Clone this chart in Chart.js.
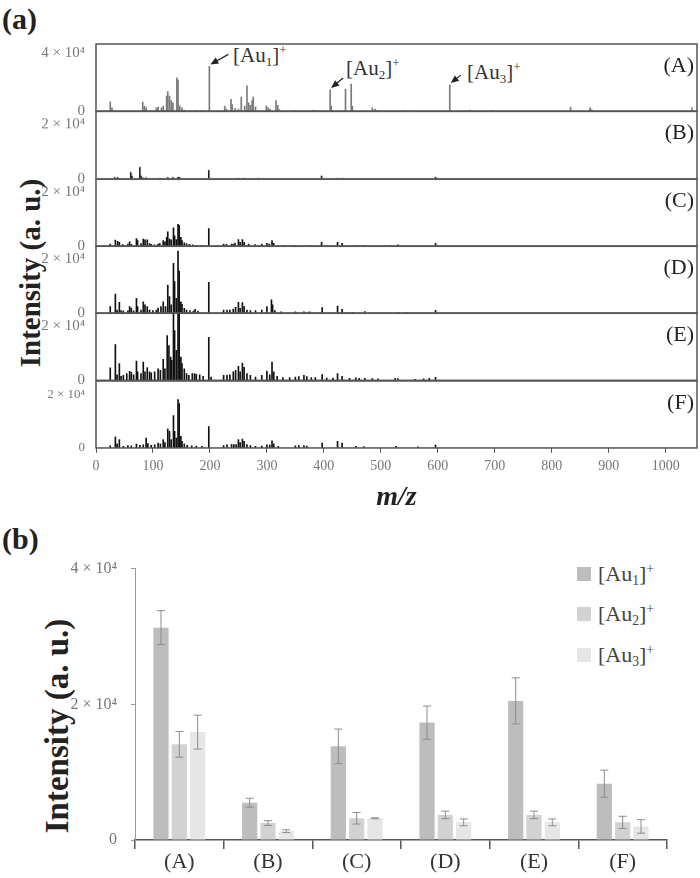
<!DOCTYPE html>
<html>
<head>
<meta charset="utf-8">
<script src="https://cdn.jsdelivr.net/npm/chart.js@4"></script>
<style>
  body { margin: 0; background: #fff; }
  #page { position: relative; width: 700px; height: 878px; font-family: 'Liberation Serif', serif; color: #222; overflow: hidden; }
  .box { position: absolute; left: 0; width: 700px; }
  .txt { position: absolute; white-space: nowrap; line-height: 1; }
  .rot { position: absolute; white-space: nowrap; line-height: 1; font-weight: bold; transform: translate(-50%, -50%) rotate(-90deg); }
  sub { font-size: 0.62em; vertical-align: -0.28em; line-height: 0; }
  sup { font-size: 0.62em; vertical-align: 0.6em; line-height: 0; }
  .sw { position: absolute; width: 14px; height: 14px; }
</style>
</head>
<body>
<div id="page">
  <div class="txt" style="left:2px;top:4px;font-size:30px;font-weight:bold;">(a)</div>
  <div class="txt" style="left:2px;top:524px;font-size:30px;font-weight:bold;">(b)</div>
  <div class="rot" style="left:30px;top:273px;font-size:29px;">Intensity (a. u.)</div>
  <div class="rot" style="left:57px;top:726px;font-size:33px;">Intensity (a. u.)</div>

  <div class="txt" style="left:233px;top:45px;font-size:21px;color:#333;">[Au<sub>1</sub>]<sup>+</sup></div>
  <div class="txt" style="left:346px;top:58px;font-size:21px;color:#333;">[Au<sub>2</sub>]<sup>+</sup></div>
  <div class="txt" style="left:467px;top:62px;font-size:21px;color:#333;">[Au<sub>3</sub>]<sup>+</sup></div>

  <div class="sw" style="left:577px;top:567px;background:#bdbdbd;"></div>
  <div class="txt" style="left:598px;top:563px;font-size:22px;color:#444;">[Au<sub>1</sub>]<sup>+</sup></div>
  <div class="sw" style="left:577px;top:607px;background:#d2d2d2;"></div>
  <div class="txt" style="left:598px;top:603px;font-size:22px;color:#444;">[Au<sub>2</sub>]<sup>+</sup></div>
  <div class="sw" style="left:577px;top:648px;background:#e6e6e6;"></div>
  <div class="txt" style="left:598px;top:644px;font-size:22px;color:#444;">[Au<sub>3</sub>]<sup>+</sup></div>

  <div class="box" style="top:545px;height:333px;"><canvas id="bars"></canvas></div>
</div>
<script>
// peaks as [m/z, intensity]
const peaksA = [[25,6500],[28,2300],[82,6300],[85,3500],[88,2300],[106,2300],[109,2800],[115,2300],[118,3500],
  [124,10400],[126,13500],[129,10400],[132,7400],[135,5800],[142,22800],[144,21400],[147,3500],[151,2300],[155,900],
  [175,600],[185,700],[199,30700],[226,3500],[229,1500],[237,8100],[239,4600],[244,2000],[250,1500],[255,9800],
  [261,3500],[265,17400],[268,5800],[271,4000],[274,7400],[276,9800],[280,3000],[299,3500],[302,2300],[305,1500],
  [316,7400],[319,4000],[322,1200],[347,700],[382,900],[411,14600],[413,3500],[438,15100],[448,18600],[450,3500],
  [485,2300],[490,1500],[495,700],[540,500],[560,400],[621,17900],[657,800],[695,600],[833,2800],[867,2300],
  [870,1200],[1046,2300]];
const peaksB = [[33,600],[38,600],[61,2500],[63,1200],[77,4400],[79,1200],[82,500],[88,500],[112,400],[126,600],
  [135,600],[144,700],[147,600],[198,3200],[250,400],[259,400],[285,400],[396,1200],[424,400],[433,400],[596,700]];
const peaksC = [[25,860],[34,2300],[38,1800],[41,1500],[47,600],[56,800],[59,1700],[62,700],[71,2900],[73,2100],
  [79,1000],[83,2700],[86,2400],[90,2400],[94,1000],[97,700],[103,500],[109,800],[112,1000],[118,2100],[121,1700],
  [124,3300],[126,5400],[129,2700],[132,2400],[136,6900],[138,3900],[141,2500],[144,8200],[146,7800],[149,3300],
  [151,2100],[155,1300],[159,1000],[164,700],[170,500],[176,400],[186,400],[198,6600],[224,860],[229,700],[238,800],
  [241,700],[244,1200],[250,2500],[253,1500],[257,2500],[260,1500],[268,800],[279,600],[291,800],[300,1100],
  [304,800],[309,2100],[312,1100],[330,400],[350,400],[375,400],[396,1500],[424,1500],[432,1100],[455,400],
  [470,400],[515,400],[530,500],[596,1100]];
const peaksD = [[25,2500],[34,7100],[37,1200],[41,4100],[44,1000],[48,900],[56,900],[59,2500],[62,1900],[66,900],
  [71,5600],[73,2500],[79,1200],[83,4300],[86,3100],[90,2500],[94,1200],[100,1000],[106,1200],[109,1900],[114,2500],
  [118,4300],[122,2500],[126,10500],[129,6200],[132,3100],[136,18600],[138,11800],[141,5600],[144,23100],
  [146,15700],[149,4300],[151,3300],[155,1800],[159,1200],[165,1000],[171,800],[174,1500],[179,800],[198,11500],
  [224,1200],[230,1200],[235,1200],[241,1600],[245,2200],[250,4100],[253,1800],[257,4000],[260,2500],[265,1200],
  [271,1000],[280,1000],[291,1200],[300,2500],[308,5000],[310,3100],[314,1000],[325,500],[350,500],[365,500],
  [375,500],[397,2100],[424,2700],[432,1500],[450,400],[472,600],[530,400],[545,400],[596,1100]];
const peaksE = [[25,4600],[34,13300],[37,2000],[41,6200],[44,1500],[48,1800],[54,2500],[59,3300],[62,3000],
  [66,2000],[71,7100],[73,3100],[79,2500],[83,6800],[86,3100],[90,4700],[94,3100],[97,2800],[103,3100],[109,4300],
  [113,3700],[118,7800],[121,4300],[125,16600],[128,12900],[131,8600],[133,7400],[136,25000],[138,18500],
  [141,11100],[144,25000],[146,25000],[149,8600],[151,6200],[155,4300],[159,2500],[163,1800],[169,2500],[173,2500],
  [176,2200],[182,2000],[188,1500],[198,16000],[202,1200],[224,1800],[230,1800],[235,2000],[241,3100],[245,3700],
  [250,5200],[253,3100],[257,6400],[260,4800],[265,2500],[271,1800],[280,1200],[291,1800],[300,3400],[305,2000],
  [309,6800],[312,3100],[318,1500],[328,1000],[340,1000],[350,1200],[356,1400],[365,1800],[370,1400],[378,1000],
  [385,1000],[397,2100],[405,800],[416,800],[424,2500],[432,1500],[445,700],[456,900],[462,700],[472,700],
  [485,600],[495,500],[525,700],[530,600],[560,400],[575,500],[585,700],[596,1100]];
const peaksF = [[25,800],[34,4100],[37,1500],[41,3100],[48,600],[56,900],[62,800],[71,1400],[77,1000],[83,1200],
  [88,3700],[91,1600],[97,1000],[103,1200],[109,1800],[113,1500],[118,3100],[121,2000],[126,7100],[129,6200],
  [132,3100],[136,12100],[138,6200],[141,3700],[144,18100],[146,16600],[149,4300],[151,2500],[155,1500],[160,1000],
  [168,800],[176,700],[186,600],[198,8000],[224,900],[230,1200],[238,1300],[242,1300],[246,1300],[250,3100],
  [253,2000],[257,3300],[260,2500],[265,1300],[271,900],[280,600],[291,700],[300,1200],[305,1100],[309,2700],
  [312,1500],[320,600],[350,800],[356,900],[365,900],[370,700],[397,1800],[424,2500],[432,1800],[456,600],
  [470,500],[527,600],[565,400],[596,1100]];

// panel (b)
const groups = ['(A)', '(B)', '(C)', '(D)', '(E)', '(F)'];
const au1 = [31300, 5500, 13800, 17300, 20500, 8300];
const au1Err = [2500, 650, 2550, 2450, 3400, 2000];
const au2 = [14100, 2500, 3200, 3700, 3700, 2600];
const au2Err = [1900, 350, 850, 550, 550, 900];
const au3 = [15900, 1300, 3200, 2600, 2600, 2000];
const au3Err = [2500, 200, 60, 500, 500, 1000];

const auPeaks = [199, 411, 621];   // m/z of the marked peaks in (A)
const mzTicks = [0, 1000, 100];    // first, last, step

const serif = 'Liberation Serif';
const page = document.getElementById('page');

function sci(v) {
  return v === 0 ? '0' : (v / 10000) + ' × 10⁴';
}

const frame = {
  id: 'frame',
  afterDraw(chart) {
    const a = chart.chartArea, ctx = chart.ctx;
    ctx.save();
    ctx.strokeStyle = '#555';
    ctx.lineWidth = 1.5;
    ctx.strokeRect(a.left, a.top, a.right - a.left, a.bottom - a.top);
    ctx.restore();
  }
};

const arrows = {
  id: 'arrows',
  afterDraw(chart) {
    const ctx = chart.ctx, x = chart.scales.x, y = chart.scales.y;
    const offs = [[18, -10], [12, -10], [10, -8]];
    ctx.save();
    ctx.strokeStyle = '#222';
    ctx.fillStyle = '#222';
    ctx.lineWidth = 1.2;
    auPeaks.forEach((mz, i) => {
      const h = peaksA.find(p => p[0] === mz)[1];
      const tx = x.getPixelForValue(mz) + 1, ty = y.getPixelForValue(h) - 2;
      const sx = tx + offs[i][0], sy = ty + offs[i][1];
      const ang = Math.atan2(ty - sy, tx - sx);
      ctx.beginPath();
      ctx.moveTo(sx, sy);
      ctx.lineTo(tx - 5 * Math.cos(ang), ty - 5 * Math.sin(ang));
      ctx.stroke();
      ctx.beginPath();
      ctx.moveTo(tx, ty);
      ctx.lineTo(tx - 8 * Math.cos(ang) + 3.5 * Math.sin(ang), ty - 8 * Math.sin(ang) - 3.5 * Math.cos(ang));
      ctx.lineTo(tx - 8 * Math.cos(ang) - 3.5 * Math.sin(ang), ty - 8 * Math.sin(ang) + 3.5 * Math.cos(ang));
      ctx.closePath();
      ctx.fill();
    });
    ctx.restore();
  }
};

const panels = [
  {name: '(A)', peaks: peaksA, max: 46000, tick: 40000, color: '#7a7a7a'},
  {name: '(B)', peaks: peaksB, max: 25000, tick: 20000, color: '#222'},
  {name: '(C)', peaks: peaksC, max: 25000, tick: 20000, color: '#111'},
  {name: '(D)', peaks: peaksD, max: 25000, tick: 20000, color: '#111'},
  {name: '(E)', peaks: peaksE, max: 25000, tick: 20000, color: '#111'},
  {name: '(F)', peaks: peaksF, max: 25000, tick: 20000, color: '#111'}
];

const panelTop = 44, panelH = 67.3, pad = 14, axisH = 66;

panels.forEach((p, i) => {
  const top = panelTop + i * panelH;
  const last = i === panels.length - 1;
  const box = document.createElement('div');
  box.className = 'box';
  box.style.top = (top - pad) + 'px';
  let boxH = panelH + pad + (last ? axisH : pad);
  box.style.height = boxH + 'px';
  const canvas = document.createElement('canvas');
  box.appendChild(canvas);
  page.appendChild(box);

  const label = document.createElement('div');
  label.className = 'txt';
  label.style.cssText = 'right:6px;font-size:22px;color:#222;top:' + (top + 10) + 'px';
  label.textContent = p.name;
  page.appendChild(label);

  const chart = new Chart(canvas, {
    type: 'bar',
    data: {
      datasets: [{
        data: p.peaks.map(([x, y]) => ({x, y})),
        backgroundColor: p.color,
        borderWidth: 0,
        barThickness: 1
      }]
    },
    options: {
      animation: false,
      responsive: true,
      maintainAspectRatio: false,
      layout: {padding: {top: pad, bottom: last ? 0 : pad, left: 0, right: 3}},
      plugins: {legend: {display: false}, tooltip: {enabled: false}},
      scales: {
        x: {
          type: 'linear',
          min: 0,
          max: 1055,
          offset: false,
          display: last,
          afterBuildTicks: s => {
            s.ticks = s.ticks.filter(t => t.value >= mzTicks[0] && t.value <= mzTicks[1]);
          },
          border: {display: false},
          grid: {offset: false, drawOnChartArea: false, drawTicks: true, tickLength: 5, color: '#555', lineWidth: 1},
          ticks: {
            stepSize: mzTicks[2],
            includeBounds: false,
            maxRotation: 0,
            padding: 5,
            color: '#777',
            font: {family: serif, size: 14},
            callback: v => String(v)
          },
          title: {
            display: true,
            text: 'm/z',
            color: '#222',
            padding: {top: 6, bottom: 0},
            font: {family: serif, size: 28, style: 'italic', weight: 'bold'}
          }
        },
        y: {
          min: 0,
          max: p.max,
          afterBuildTicks: s => { s.ticks = [{value: 0}, {value: p.tick}]; },
          afterFit: s => { s.width = 96; },
          border: {display: false},
          grid: {display: false},
          ticks: {
            padding: 3,
            color: '#777',
            font: {family: serif, size: last ? 13 : 15},
            callback: sci
          }
        }
      }
    },
    plugins: i === 0 ? [frame, arrows] : [frame]
  });

  if (last) {
    // grow the box so the plot area ends where the panel stack ends
    for (let k = 0; k < 3; k++) {
      const diff = (pad + panelH) - chart.chartArea.bottom;
      if (Math.abs(diff) < 0.5) break;
      boxH += diff;
      box.style.height = boxH + 'px';
      chart.resize();
    }
  }
});

const errorBars = {
  id: 'errorBars',
  afterDatasetsDraw(chart) {
    const ctx = chart.ctx, y = chart.scales.y;
    ctx.save();
    ctx.strokeStyle = '#8c8c8c';
    ctx.lineWidth = 1;
    chart.data.datasets.forEach((ds, i) => {
      chart.getDatasetMeta(i).data.forEach((bar, j) => {
        const v = ds.data[j], e = ds.errors[j];
        const t = y.getPixelForValue(v + e), b = y.getPixelForValue(v - e);
        ctx.beginPath();
        ctx.moveTo(bar.x, t); ctx.lineTo(bar.x, b);
        ctx.moveTo(bar.x - 4, t); ctx.lineTo(bar.x + 4, t);
        ctx.moveTo(bar.x - 4, b); ctx.lineTo(bar.x + 4, b);
        ctx.stroke();
      });
    });
    ctx.restore();
  }
};

new Chart(document.getElementById('bars'), {
  type: 'bar',
  data: {
    labels: groups,
    datasets: [
      {label: '[Au1]+', data: au1, errors: au1Err, backgroundColor: '#bdbdbd'},
      {label: '[Au2]+', data: au2, errors: au2Err, backgroundColor: '#d2d2d2'},
      {label: '[Au3]+', data: au3, errors: au3Err, backgroundColor: '#e6e6e6'}
    ]
  },
  options: {
    animation: false,
    responsive: true,
    maintainAspectRatio: false,
    categoryPercentage: 0.62,
    barPercentage: 0.83,
    layout: {padding: {top: 17, bottom: 0, left: 0, right: 33}},
    plugins: {legend: {display: false}, tooltip: {enabled: false}},
    scales: {
      x: {
        afterFit: s => { s.height = 38; },
        border: {color: '#555', width: 1.5},
        grid: {offset: true, drawOnChartArea: false, drawTicks: true, tickLength: 9, color: '#555', lineWidth: 1.5},
        ticks: {padding: 0, color: '#333', font: {family: serif, size: 22}}
      },
      y: {
        min: 0,
        max: 40000,
        afterFit: s => { s.width = 135; },
        border: {color: '#999', width: 1},
        grid: {drawOnChartArea: false, drawTicks: true, tickLength: 4, color: '#999'},
        ticks: {stepSize: 20000, padding: 14, color: '#777', font: {family: serif, size: 16}, callback: sci}
      }
    }
  },
  plugins: [errorBars]
});
</script>
</body>
</html>
